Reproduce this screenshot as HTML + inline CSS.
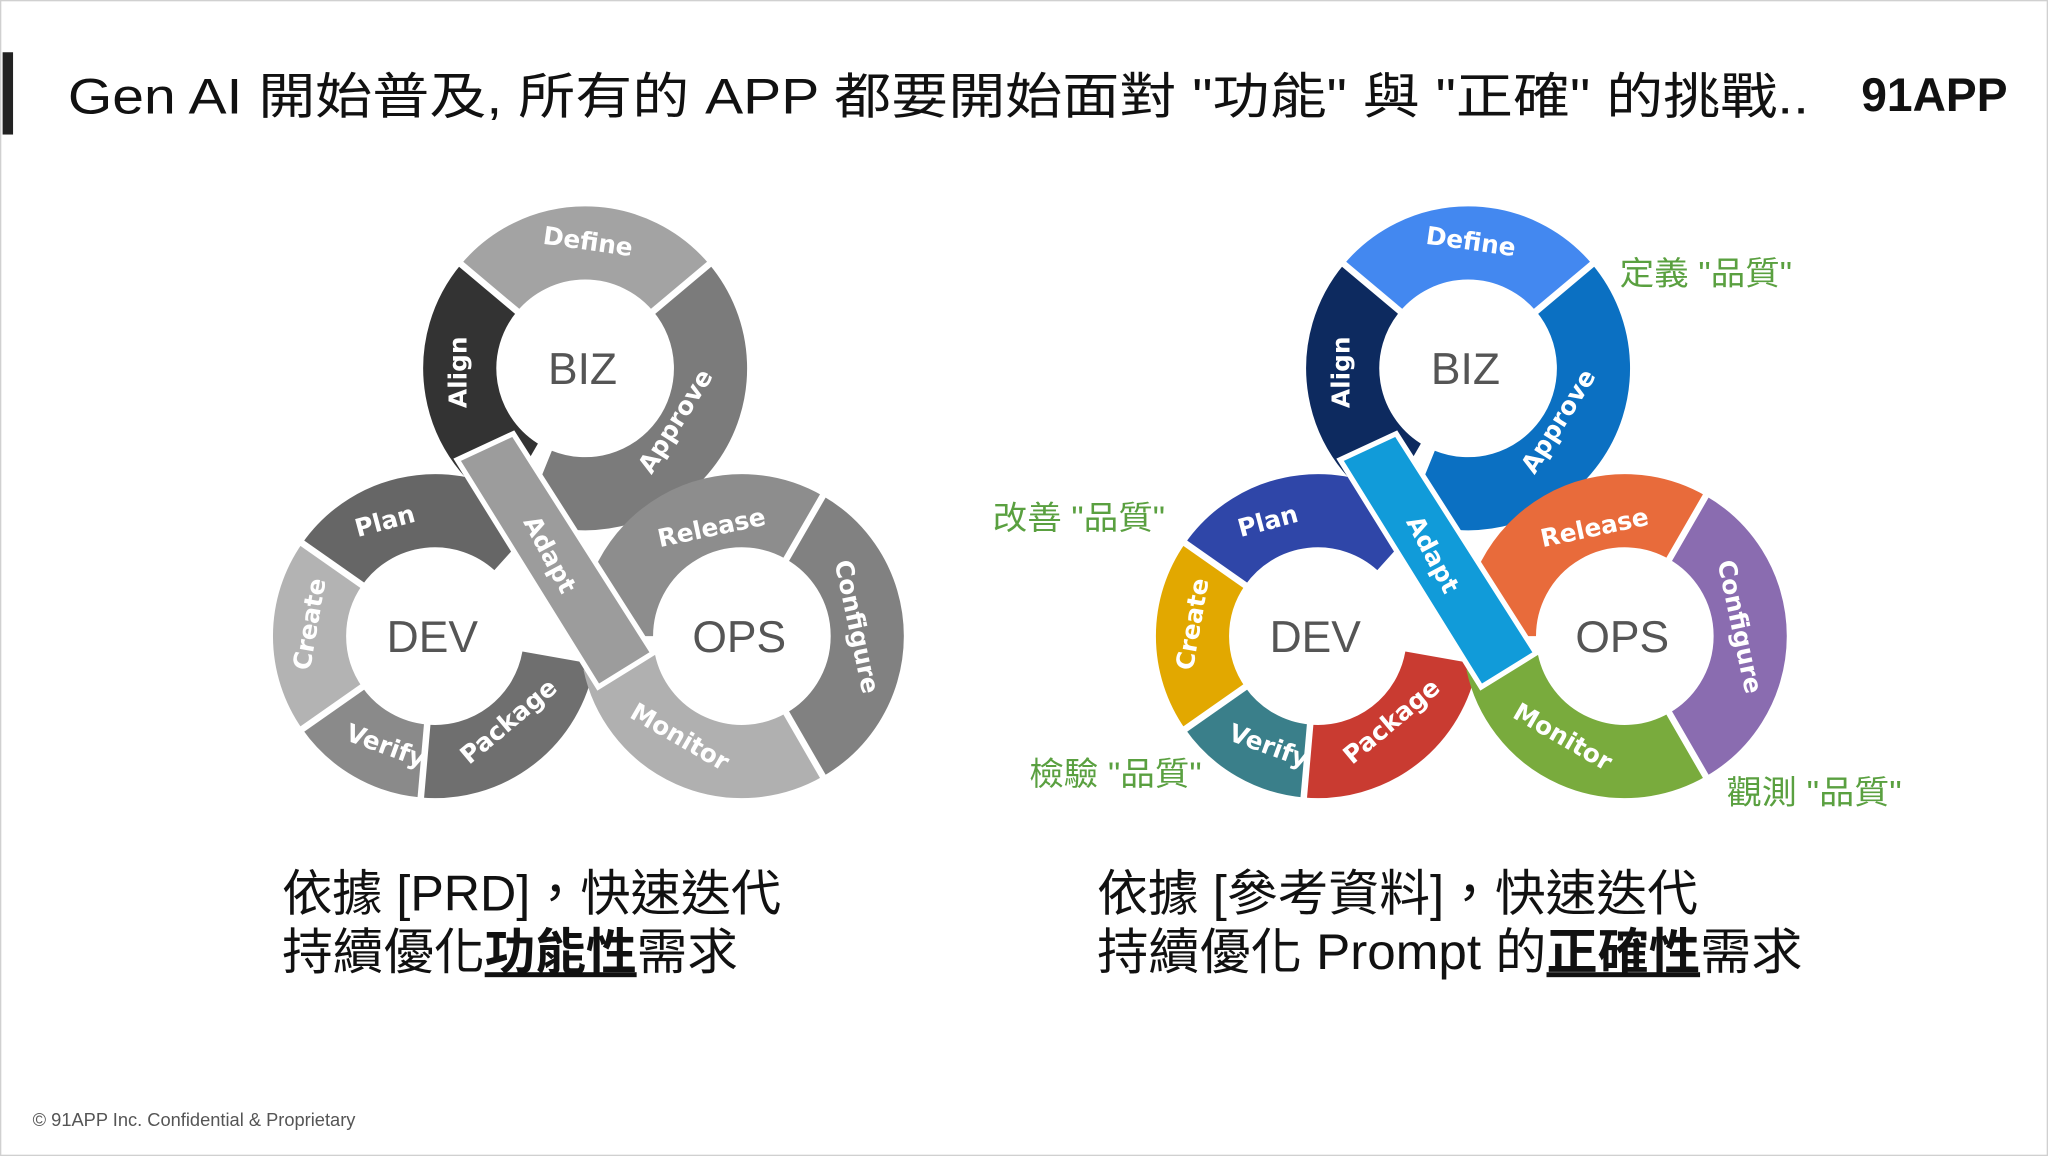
<!DOCTYPE html>
<html><head><meta charset="utf-8"><style>
html,body{margin:0;padding:0;background:#fff;}
svg{display:block;}
</style></head><body>
<svg id="s" width="2048" height="1156" viewBox="0 0 1568 885" preserveAspectRatio="none" xmlns="http://www.w3.org/2000/svg">
<rect x="0.5" y="0.5" width="1567" height="884" fill="#fff" stroke="#d0d0d0" stroke-width="1"/>
<rect x="2" y="40" width="8" height="63" fill="#222"/>
<text x="52" y="87" textLength="1333" lengthAdjust="spacingAndGlyphs" font-family="Liberation Sans, Noto Sans CJK TC, sans-serif" font-size="38" fill="#111">Gen AI 開始普及, 所有的 APP 都要開始面對 "功能" 與 "正確" 的挑戰..</text>
<text x="1425" y="85" textLength="112" lengthAdjust="spacingAndGlyphs" font-family="Liberation Sans, sans-serif" font-size="36" font-weight="bold" fill="#111">91APP</text>
<g id="d1"></g><g id="d2"></g>
<g font-family="Liberation Sans, Noto Sans CJK TC, sans-serif" font-size="25" fill="#5aa040">
<text x="1240" y="218" textLength="132" lengthAdjust="spacingAndGlyphs">定義 "品質"</text>
<text x="760" y="405" textLength="132" lengthAdjust="spacingAndGlyphs">改善 "品質"</text>
<text x="788" y="601" textLength="132" lengthAdjust="spacingAndGlyphs">檢驗 "品質"</text>
<text x="1322" y="615" textLength="134" lengthAdjust="spacingAndGlyphs">觀測 "品質"</text>
</g>
<g font-family="Liberation Sans, Noto Sans CJK TC, sans-serif" font-size="38" fill="#111">
<text x="216" y="697" textLength="382" lengthAdjust="spacingAndGlyphs">依據 [PRD]，快速迭代</text>
<text x="216" y="742" textLength="349" lengthAdjust="spacingAndGlyphs">持續優化<tspan font-weight="bold" text-decoration="underline">功能性</tspan>需求</text>
<text x="840" y="697" textLength="460" lengthAdjust="spacingAndGlyphs">依據 [參考資料]，快速迭代</text>
<text x="840" y="742" textLength="540" lengthAdjust="spacingAndGlyphs">持續優化 Prompt 的<tspan font-weight="bold" text-decoration="underline">正確性</tspan>需求</text>
</g>
<text x="25" y="862" font-family="Liberation Sans, sans-serif" font-size="14" fill="#555">© 91APP Inc. Confidential &amp; Proprietary</text>
</svg>
<script>
var NS="http://www.w3.org/2000/svg";
function el(p,t,a,txt){var e=document.createElementNS(NS,t);for(var k in a)e.setAttribute(k,a[k]);if(txt)e.textContent=txt;p.appendChild(e);return e;}
function arc(g,cx,cy,r,a1,a2,col){var R=Math.PI/180;var x1=cx+r*Math.cos(a1*R),y1=cy+r*Math.sin(a1*R),x2=cx+r*Math.cos(a2*R),y2=cy+r*Math.sin(a2*R);var large=(a2-a1)>180?1:0;
el(g,"path",{d:"M"+x1+" "+y1+" A"+r+" "+r+" 0 "+large+" 1 "+x2+" "+y2,fill:"none",stroke:col,"stroke-width":56});}
function sep(g,cx,cy,r,a){var R=Math.PI/180;el(g,"line",{x1:cx+(r-30)*Math.cos(a*R),y1:cy+(r-30)*Math.sin(a*R),x2:cx+(r+30)*Math.cos(a*R),y2:cy+(r+30)*Math.sin(a*R),stroke:"#fff","stroke-width":5});}
function draw(id,ox,c){var g=document.getElementById(id);
var B=[448+ox,282],D=[333+ox,487],O=[568+ox,487],r=96;
arc(g,B[0],B[1],r,120,220,c.Align);arc(g,B[0],B[1],r,220,320,c.Define);arc(g,B[0],B[1],r,320,472,c.Approve);
[120,220,320].forEach(function(a){sep(g,B[0],B[1],r,a);});
arc(g,D[0],D[1],r,145,215,c.Create);arc(g,D[0],D[1],r,215,312,c.Plan);arc(g,D[0],D[1],r,95,145,c.Verify);arc(g,D[0],D[1],r,10,95,c.Package);
[145,215,95].forEach(function(a){sep(g,D[0],D[1],r,a);});
arc(g,O[0],O[1],r,180,300,c.Release);arc(g,O[0],O[1],r,300,420,c.Configure);arc(g,O[0],O[1],r,60,168,c.Monitor);
[300,420].forEach(function(a){sep(g,O[0],O[1],r,a);});
el(g,"polygon",{points:[[350+ox,352],[393+ox,332],[500+ox,500],[458+ox,526]].map(function(p){return p.join(",")}).join(" "),fill:c.Adapt,stroke:"#fff","stroke-width":4});
var L=[["Define",450,186,8],["Align",352,285,-90],["Approve",518,323,-58],["Plan",295,400,-15],["Create",238,478,-80],["Verify",295,572,20],["Package",390,553,-40],["Adapt",420,425,62],["Release",545,405,-12],["Configure",655,480,78],["Monitor",520,565,30]];
L.forEach(function(l){el(g,"text",{x:l[1]+ox,y:l[2],"text-anchor":"middle","dominant-baseline":"middle",transform:"rotate("+l[3]+" "+(l[1]+ox)+" "+l[2]+")","font-family":"DejaVu Sans, sans-serif","font-weight":"bold","font-size":19,fill:"#fff"},l[0]);});
[["BIZ",B],["DEV",D],["OPS",O]].forEach(function(t){el(g,"text",{x:t[1][0]-2,y:t[1][1]+12,"text-anchor":"middle","font-family":"Liberation Sans, sans-serif","font-size":34,fill:"#555"},t[0]);});
}
draw("d1",0,{Define:"#a3a3a3",Align:"#333333",Approve:"#7b7b7b",Plan:"#666666",Create:"#b3b3b3",Verify:"#8a8a8a",Package:"#6f6f6f",Adapt:"#9c9c9c",Release:"#8d8d8d",Configure:"#818181",Monitor:"#b0b0b0"});
draw("d2",676,{Define:"#4388f0",Align:"#0d2a5f",Approve:"#0b70c2",Plan:"#2f46a8",Create:"#e2a800",Verify:"#3a7f8a",Package:"#c93b31",Adapt:"#119bd9",Release:"#e86b3b",Configure:"#8a6cb0",Monitor:"#79ab3d"});
</script>
</body></html>
